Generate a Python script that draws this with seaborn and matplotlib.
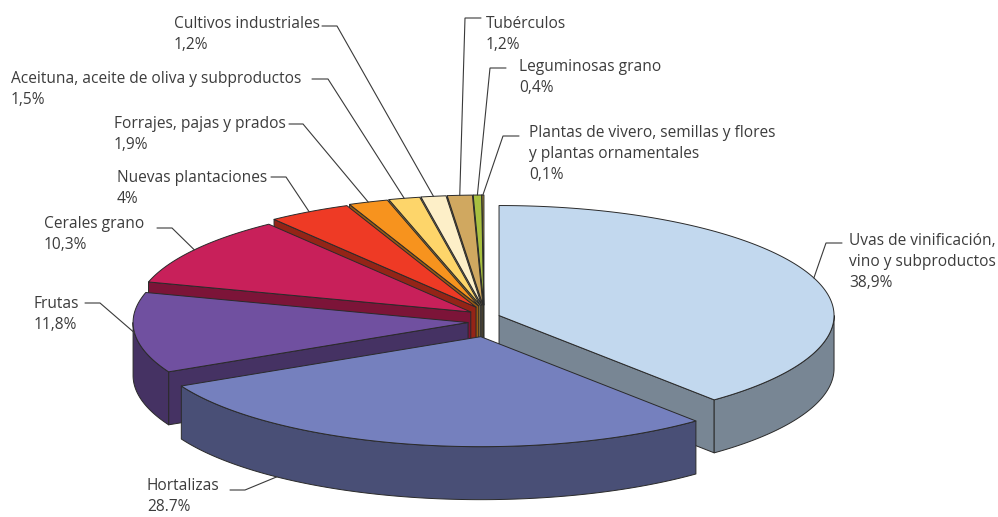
import numpy as np
import matplotlib
matplotlib.use("Agg")
import matplotlib.pyplot as plt
from matplotlib.patches import Polygon
from matplotlib.colors import to_rgb
import seaborn as sns

# ---- data -------------------------------------------------------------
categories = [
    "Uvas de vinificación,\nvino y subproductos",
    "Hortalizas",
    "Frutas",
    "Cerales grano",
    "Nuevas plantaciones",
    "Forrajes, pajas y prados",
    "Aceituna, aceite de oliva y subproductos",
    "Cultivos industriales",
    "Tubérculos",
    "Leguminosas grano",
    "Plantas de vivero, semillas y flores\ny plantas ornamentales",
]
shares = [38.9, 28.7, 11.8, 10.3, 4.0, 1.9, 1.5, 1.2, 1.2, 0.4, 0.1]
share_labels = ["38,9%", "28.7%", "11,8%", "10,3%", "4%", "1,9%",
                "1,5%", "1,2%", "1,2%", "0,4%", "0,1%"]

# ---- style ------------------------------------------------------------
top_colors = ["#c2d8ee", "#7580be", "#7050a0", "#c8205a", "#ee3a25",
              "#f7931e", "#fdd56a", "#fdefc8", "#d0a860", "#a8c040", "#a89038"]
side_factor = 0.62

# text anchor (left, top) and leader elbow (start, knee) for every label
label_pos = [(849, 233), (147, 478), (34, 296), (44, 216), (117, 170),
             (114, 116), (11, 71), (174, 16), (486, 16), (519, 59), (529, 125)]
elbows = [((842, 243), (826, 243)),
          ((230, 490), (245, 490)),
          ((85, 303), (100, 303)),
          ((157, 228), (172, 228)),
          ((271, 177), (286, 177)),
          ((289, 124), (303, 124)),
          ((312, 79), (328, 79)),
          ((322, 26), (337, 26)),
          ((481, 18), (465, 18)),
          ((506, 68), (490, 68)),
          ((519, 136), (503, 136))]
# where along each slice (0 = start, 1 = end) its leader line attaches
anchor_frac = [0.5, 0.75, 0.5, 0.5, 0.5, 0.5, 0.5, 0.5, 0.5, 0.5, 0.5]

sns.set_style("white")
plt.rcParams["font.family"] = ["Open Sans", "DejaVu Sans"]

fig = plt.figure(figsize=(9.98, 5.17), dpi=100)
ax = fig.add_axes([0, 0, 1, 1])
ax.set_xlim(0, 998)
ax.set_ylim(517, 0)
ax.axis("off")

# pie geometry (screen units)
cx, cy = 484, 321
ra, rb = 335, 110
depth = 53
explode = 16
edge = dict(ec="#2a2a2a", lw=0.7, joinstyle="round")

vals = np.array(shares, dtype=float)
bounds = np.concatenate([[0], np.cumsum(vals) / vals.sum() * 360.0])


def point(theta, ox, oy, r=1.0, dz=0.0):
    t = np.radians(theta)
    return np.column_stack([cx + ox + r * ra * np.sin(t),
                            cy + oy - r * rb * np.cos(t) + dz])


def arc(t1, t2, ox, oy, dz=0.0):
    n = max(int(abs(t2 - t1) * 2) + 2, 3)
    return point(np.linspace(t1, t2, n), ox, oy, dz=dz)


slices = []
for i in range(len(vals)):
    t1, t2 = bounds[i], bounds[i + 1]
    mid = 0.5 * (t1 + t2)
    ox = explode * np.sin(np.radians(mid))
    oy = -explode * np.cos(np.radians(mid))
    slices.append((i, t1, t2, mid, ox, oy))

# back slices first
order = sorted(slices, key=lambda s: -np.cos(np.radians(s[3])))

for i, t1, t2, mid, ox, oy in order:
    top = np.array(to_rgb(top_colors[i]))
    side = top * side_factor
    apex = np.array([[cx + ox, cy + oy]])
    apex_low = apex + np.array([[0, depth]])

    # radial cut faces facing the viewer
    for th, visible in ((t1, np.sin(np.radians(t1)) < -1e-9),
                        (t2, np.sin(np.radians(t2)) > 1e-9)):
        if visible:
            rim = point(np.array([th]), ox, oy)
            face = np.vstack([apex, rim, rim + [0, depth], apex_low])
            ax.add_patch(Polygon(face, closed=True, fc=side, **edge))

    # outer wall on the front half
    lo, hi = max(t1, 90.0), min(t2, 270.0)
    if hi > lo:
        upper = arc(lo, hi, ox, oy)
        lower = arc(hi, lo, ox, oy, dz=depth)
        ax.add_patch(Polygon(np.vstack([upper, lower]), closed=True, fc=side, **edge))

    # top face
    ax.add_patch(Polygon(np.vstack([apex, arc(t1, t2, ox, oy)]), closed=True, fc=top, **edge))

# labels and leader lines
for i, t1, t2, mid, ox, oy in slices:
    th = t1 + anchor_frac[i] * (t2 - t1)
    dz = depth if np.cos(np.radians(th)) < -0.5 else 0.0
    tip = point(np.array([th]), ox, oy, dz=dz)[0]
    (sx, sy), (kx, ky) = elbows[i]
    ax.plot([sx, kx, tip[0]], [sy, ky, tip[1]], color="#3a3a3a", lw=0.8,
            solid_joinstyle="miter")
    lx, ly = label_pos[i]
    ax.text(lx, ly, f"{categories[i]}\n{share_labels[i]}", ha="left", va="top",
            fontsize=11.2, color="#3c3c3c", linespacing=1.42)

fig.savefig("out.png", dpi=100)
